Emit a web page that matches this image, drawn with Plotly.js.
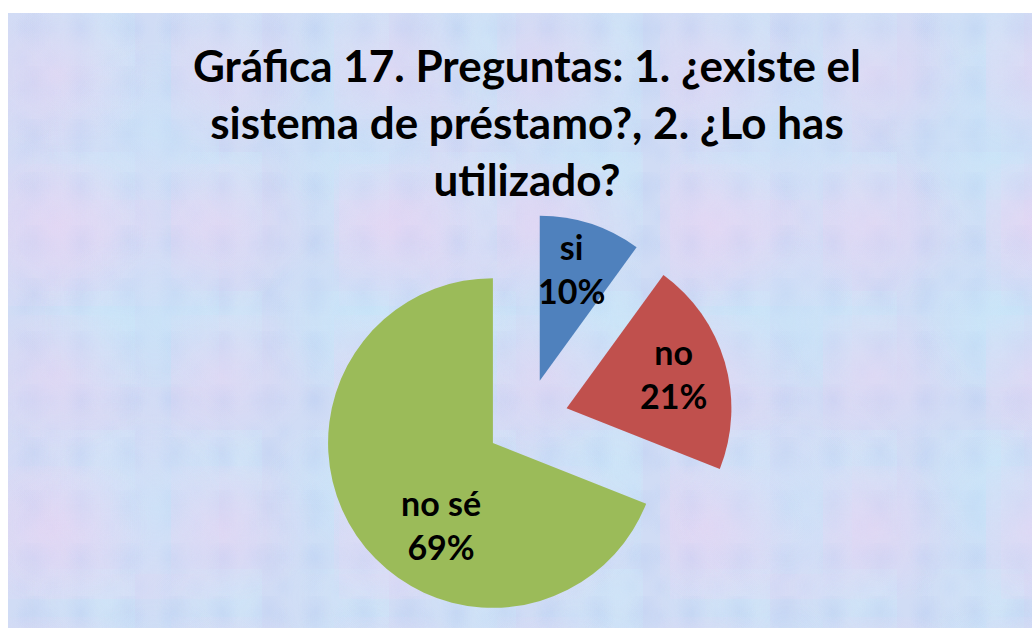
<!DOCTYPE html>
<html>
<head>
<meta charset="utf-8">
<script src="https://cdn.plot.ly/plotly-3.0.1.min.js"></script>
<style>
  html, body { margin: 0; padding: 0; background: #ffffff; }
  #bg {
    position: absolute; left: 8px; top: 13px; width: 1024px; height: 615px;
    background-color: #d0dcf5;
    background-image:
      radial-gradient(ellipse at 30% 40%, rgba(238,210,242,0.45) 0, rgba(238,210,242,0) 60%),
      radial-gradient(ellipse at 70% 65%, rgba(195,232,250,0.45) 0, rgba(195,232,250,0) 55%),
      radial-gradient(ellipse at 55% 30%, rgba(180,200,240,0.30) 0, rgba(180,200,240,0) 50%),
      radial-gradient(ellipse at 25% 75%, rgba(232,215,245,0.40) 0, rgba(232,215,245,0) 55%),
      radial-gradient(ellipse at 80% 20%, rgba(205,238,250,0.40) 0, rgba(205,238,250,0) 60%),
      radial-gradient(ellipse at 50% 50%, rgba(190,210,245,0.25) 0, rgba(190,210,245,0) 60%);
    background-size: 163px 151px, 211px 187px, 47px 53px, 331px 293px, 127px 139px, 29px 31px;
  }
  #chart { position: absolute; left: 0; top: 0; width: 1032px; height: 628px; }
</style>
</head>
<body>
<div id="bg"></div>
<div id="chart"></div>
<script>
const categories = ["si", "no", "no sé"];
const values = [10, 21, 69];
const sliceColors = ["#4F81BD", "#C0504D", "#9BBB59"];
const titleText = "Gráfica 17. Preguntas: 1. ¿existe el<br>sistema de préstamo?, 2. ¿Lo has<br>utilizado?";

const W = 1032, H = 628;
const fontFam = "Lato, 'Open Sans', sans-serif";

const trace = {
  type: "pie",
  labels: categories,
  values: values,
  sort: false,
  direction: "clockwise",
  rotation: 0,
  pull: [0.25, 0.25, 0.25],
  marker: { colors: sliceColors, line: { width: 0 } },
  textinfo: "none",
  hoverinfo: "none",
  showlegend: false,
  domain: { x: [0.311, 0.7103], y: [0.003, 0.66] }
};

// Data labels (text built from the data arrays)
const total = values.reduce((a, b) => a + b, 0);
const labelPos = [[571, 268], [673, 373], [441, 524]]; // label block centres in px
const annotations = categories.map((c, i) => ({
  text: c + "<br>" + Math.round(values[i] / total * 100) + "%",
  x: labelPos[i][0] / W, y: 1 - labelPos[i][1] / H,
  xref: "paper", yref: "paper", xanchor: "center", yanchor: "middle",
  showarrow: false, align: "center",
  font: { family: fontFam, size: 34, color: "#000000", weight: "bold" }
}));

const layout = {
  width: W,
  height: H,
  margin: { l: 0, r: 0, t: 0, b: 0 },
  paper_bgcolor: "rgba(0,0,0,0)",
  plot_bgcolor: "rgba(0,0,0,0)",
  showlegend: false,
  annotations: annotations,
  title: {
    text: titleText,
    font: { family: fontFam, size: 44, color: "#000000", weight: "bold" },
    x: 527 / W,
    xanchor: "center",
    xref: "container",
    y: 1 - 82 / H,
    yanchor: "top",
    yref: "container"
  }
};

Plotly.newPlot("chart", [trace], layout, { displayModeBar: false, staticPlot: true });
</script>
</body>
</html>
